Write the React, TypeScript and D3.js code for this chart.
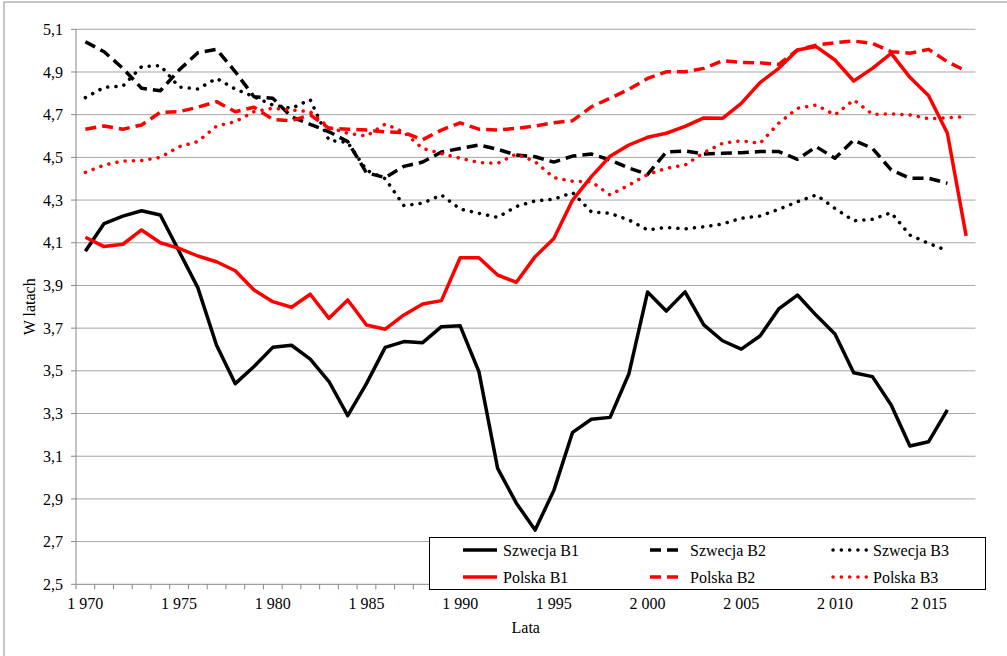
import * as d3 from 'd3';

// lata 1970..2017
const years = d3.range(1970, 2018);

const szwecjaB1 = [
  4.06, 4.19, 4.225, 4.25, 4.23, 4.06, 3.89, 3.62, 3.44, 3.52,
  3.61, 3.62, 3.555, 3.45, 3.29, 3.44, 3.61, 3.637, 3.632, 3.707,
  3.711, 3.496, 3.043, 2.88, 2.754, 2.94, 3.212, 3.273, 3.282, 3.485,
  3.869, 3.78, 3.87, 3.715, 3.641, 3.602, 3.663, 3.79, 3.855, 3.76,
  3.673, 3.491, 3.473, 3.34, 3.148, 3.168, 3.317,
];
const szwecjaB2 = [
  5.042, 4.995, 4.917, 4.824, 4.812, 4.909, 4.99, 5.006, 4.901, 4.784,
  4.777, 4.69, 4.655, 4.62, 4.574, 4.428, 4.405, 4.458, 4.478, 4.525,
  4.542, 4.558, 4.538, 4.511, 4.503, 4.478, 4.506, 4.516, 4.488, 4.45,
  4.42, 4.525, 4.53, 4.516, 4.519, 4.522, 4.527, 4.527, 4.491, 4.55,
  4.496, 4.581, 4.542, 4.441, 4.402, 4.402, 4.379,
];
const szwecjaB3 = [
  4.78, 4.828, 4.834, 4.925, 4.93, 4.83, 4.82, 4.87, 4.82, 4.784,
  4.745, 4.73, 4.77, 4.58, 4.57, 4.44, 4.4, 4.274, 4.285, 4.324,
  4.258, 4.238, 4.219, 4.27, 4.296, 4.304, 4.335, 4.245, 4.238, 4.207,
  4.16, 4.172, 4.165, 4.175, 4.188, 4.215, 4.225, 4.257, 4.292, 4.324,
  4.261, 4.203, 4.21, 4.241, 4.136, 4.097, 4.063,
];
const polskaB1 = [
  4.126, 4.082, 4.093, 4.16, 4.1, 4.074, 4.038, 4.011, 3.969, 3.879,
  3.824, 3.798, 3.859, 3.746, 3.832, 3.715, 3.695, 3.762, 3.813, 3.829,
  4.03, 4.03, 3.949, 3.915, 4.035, 4.12, 4.3, 4.41, 4.505, 4.558,
  4.594, 4.613, 4.645, 4.685, 4.683, 4.753, 4.85, 4.917, 5.003, 5.019,
  4.956, 4.858, 4.917, 4.987, 4.875, 4.789, 4.613, 4.132,
];
const polskaB2 = [
  4.632, 4.647, 4.632, 4.652, 4.711, 4.714, 4.735, 4.761, 4.714, 4.735,
  4.678, 4.672, 4.699, 4.636, 4.632, 4.628, 4.62, 4.616, 4.583, 4.628,
  4.662, 4.632, 4.628, 4.636, 4.647, 4.662, 4.672, 4.737, 4.777, 4.819,
  4.87, 4.901, 4.901, 4.917, 4.953, 4.945, 4.943, 4.936, 5.003, 5.026,
  5.037, 5.045, 5.034, 4.995, 4.988, 5.006, 4.948, 4.905,
];
const polskaB3 = [
  4.43, 4.464, 4.483, 4.485, 4.5, 4.55, 4.574, 4.647, 4.667, 4.714,
  4.73, 4.722, 4.714, 4.64, 4.613, 4.6, 4.656, 4.618, 4.542, 4.518,
  4.496, 4.476, 4.472, 4.516, 4.48, 4.405, 4.388, 4.386, 4.324, 4.37,
  4.42, 4.449, 4.464, 4.522, 4.566, 4.578, 4.566, 4.66, 4.73, 4.745,
  4.699, 4.769, 4.702, 4.704, 4.699, 4.681, 4.686, 4.69,
];

const yTicks = d3.range(2.5, 5.11, 0.2);
const xLabelYears = d3.range(1970, 2016, 5);

const DASH = '11 6';
const DOT = '0.1 8.2';

const series = [
  { name: 'Szwecja B1', values: szwecjaB1, color: '#000', dash: undefined },
  { name: 'Szwecja B2', values: szwecjaB2, color: '#000', dash: DASH },
  { name: 'Szwecja B3', values: szwecjaB3, color: '#000', dash: DOT },
  { name: 'Polska B1', values: polskaB1, color: '#ff0000', dash: undefined },
  { name: 'Polska B2', values: polskaB2, color: '#ff0000', dash: DASH },
  { name: 'Polska B3', values: polskaB3, color: '#ff0000', dash: DOT },
];

const fmt = d3.formatLocale({ decimal: ',', thousands: ' ', grouping: [3], currency: ['', ''] });
const fmtY = fmt.format('.1f');
const fmtX = fmt.format(',d');

export default function App() {
  const W = 1007;
  const H = 656;
  const left = 76;
  const right = 975.5;
  const top = 29.3;
  const bottom = 584.3;

  const x = d3.scaleBand<number>().domain(years).range([left, right]);
  const y = d3.scaleLinear().domain([2.5, 5.1]).range([bottom, top]);
  const cx = (yr: number) => x(yr)! + x.bandwidth() / 2;

  const line = d3
    .line<number>()
    .x((_, i) => cx(years[i]))
    .y((d) => y(d));

  // legend layout
  const legX = [463, 650, 833];
  const legY = [550, 577];

  return (
    <svg
      width={W}
      height={H}
      style={{ position: 'absolute', left: 0, top: 0, background: '#fff', fontFamily: 'Liberation Serif, DejaVu Serif, serif' }}
    >
      <rect x={4} y={2} width={W + 10} height={H + 10} fill="#fff" stroke="#8c8c8c" />

      {/* grid */}
      {yTicks.slice(1).map((t) => (
        <line key={t} x1={left} x2={right} y1={y(t)} y2={y(t)} stroke="#a6a6a6" strokeWidth={1} />
      ))}

      {/* Y axis */}
      <line x1={left} x2={left} y1={top} y2={bottom} stroke="#868686" />
      {yTicks.map((t) => (
        <line key={t} x1={left - 5} x2={left} y1={y(t)} y2={y(t)} stroke="#868686" />
      ))}
      {yTicks.map((t) => (
        <text key={t} x={63} y={y(t)} dy="0.35em" textAnchor="end" fontSize={16} fill="#000">
          {fmtY(t)}
        </text>
      ))}
      <text
        transform={`translate(29, ${(top + bottom) / 2}) rotate(-90)`}
        textAnchor="middle"
        dy="0.35em"
        fontSize={16}
      >
        W latach
      </text>

      {/* X axis */}
      <line x1={left} x2={right} y1={bottom} y2={bottom} stroke="#868686" />
      {years.map((yr) => (
        <line key={yr} x1={x(yr)} x2={x(yr)} y1={bottom} y2={bottom + 5} stroke="#868686" />
      ))}
      <line x1={right} x2={right} y1={bottom} y2={bottom + 5} stroke="#868686" />
      {xLabelYears.map((yr) => (
        <text key={yr} x={cx(yr)} y={609} textAnchor="middle" fontSize={16}>
          {fmtX(yr)}
        </text>
      ))}
      <text x={(left + right) / 2} y={633} textAnchor="middle" fontSize={16}>
        Lata
      </text>

      {/* lines */}
      {series.map((s) => (
        <path
          key={s.name}
          d={line(s.values) ?? ''}
          fill="none"
          stroke={s.color}
          strokeWidth={3.5}
          strokeDasharray={s.dash}
          strokeLinecap={s.dash === DOT ? 'round' : 'butt'}
          strokeLinejoin="round"
        />
      ))}

      {/* legend */}
      <rect x={429.5} y={537.5} width={556} height={52} fill="#fff" stroke="#000" strokeWidth={1} />
      {series.map((s, i) => {
        const lx = legX[i % 3];
        const ly = legY[Math.floor(i / 3)];
        return (
          <g key={s.name}>
            <line
              x1={lx}
              x2={lx + 34}
              y1={ly}
              y2={ly}
              stroke={s.color}
              strokeWidth={3.5}
              strokeDasharray={s.dash}
              strokeLinecap={s.dash === DOT ? 'round' : 'butt'}
            />
            <text x={lx + 40} y={ly} dy="0.35em" fontSize={16}>
              {s.name}
            </text>
          </g>
        );
      })}
    </svg>
  );
}
